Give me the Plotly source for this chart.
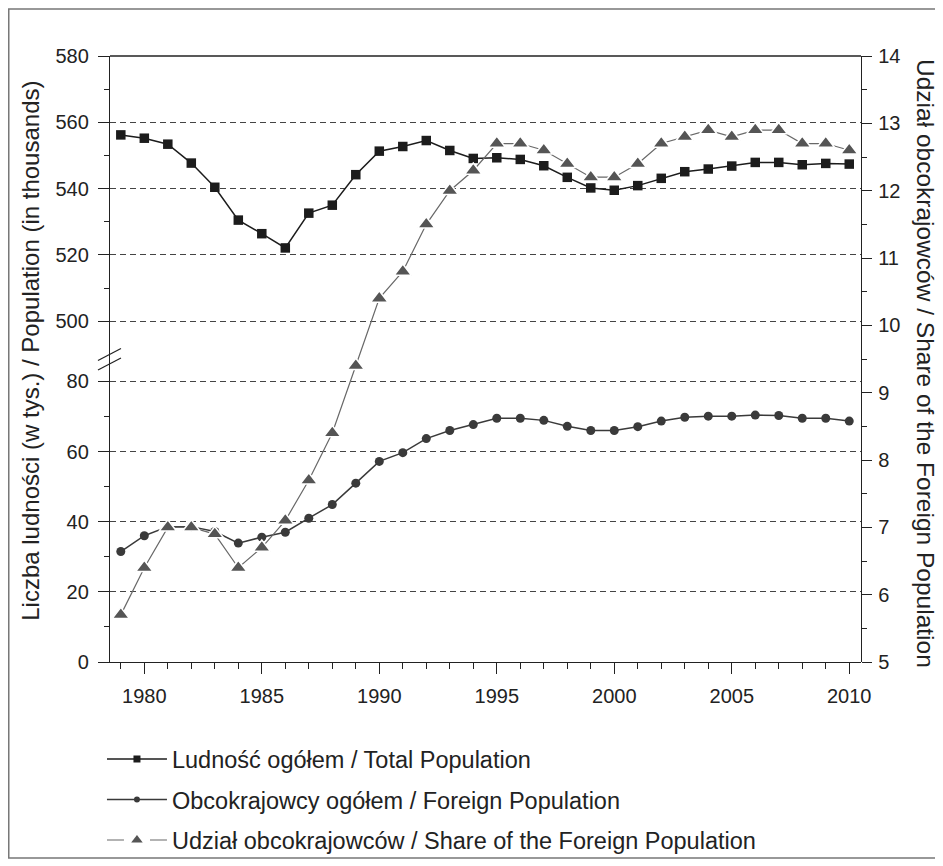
import plotly.graph_objects as go

years = list(range(1979, 2011))
total_pop = [556.2, 555.2, 553.4, 547.7, 540.4, 530.5, 526.4, 522.1, 532.6, 535.0, 544.2,
             551.3, 552.7, 554.5, 551.5, 549.1, 549.3, 548.8, 546.9, 543.4, 540.2, 539.5,
             540.9, 543.1, 545.1, 545.9, 546.8, 547.9, 547.9, 547.2, 547.6, 547.4]
foreign_pop = [31.5, 36.0, 38.6, 38.6, 37.2, 33.9, 35.6, 37.0, 41.0, 44.9, 51.0,
               57.2, 59.7, 63.7, 66.0, 67.7, 69.5, 69.5, 68.9, 67.2, 66.0, 66.0,
               67.1, 68.7, 69.8, 70.1, 70.1, 70.4, 70.3, 69.5, 69.5, 68.7]
share = [5.7, 6.4, 7.0, 7.0, 6.9, 6.4, 6.7, 7.1, 7.7, 8.4, 9.4,
         10.4, 10.8, 11.5, 12.0, 12.3, 12.7, 12.7, 12.6, 12.4, 12.2, 12.2,
         12.4, 12.7, 12.8, 12.9, 12.8, 12.9, 12.9, 12.7, 12.7, 12.6]

x_ticks = [1980, 1985, 1990, 1995, 2000, 2005, 2010]
low_ticks = [0, 20, 40, 60, 80]
high_ticks = [500, 520, 540, 560, 580]
share_ticks = list(range(5, 15))

name_total = "Ludność ogółem / Total Population"
name_foreign = "Obcokrajowcy ogółem / Foreign Population"
name_share = "Udział obcokrajowców / Share of the Foreign Population"
title_left = "Liczba ludności (w tys.) / Population (in thousands)"
title_right = "Udział obcokrajowców / Share of the Foreign Population"

FONT = "Liberation Sans, Arial, sans-serif"
AX = "#222222"
C_TOTAL = "#1c1c1c"
C_FOREIGN = "#3a3a3a"
C_SHARE = "#555555"
TICK_SIZE = 20

fig = go.Figure()

fig.add_trace(go.Scatter(x=years, y=total_pop, yaxis="y2", mode="lines+markers",
                         line=dict(color=C_TOTAL, width=1.5),
                         marker=dict(symbol="square", size=9.5, color=C_TOTAL),
                         showlegend=False, hoverinfo="skip"))
fig.add_trace(go.Scatter(x=years, y=foreign_pop, yaxis="y", mode="lines+markers",
                         line=dict(color=C_FOREIGN, width=1.5),
                         marker=dict(symbol="circle", size=9, color=C_FOREIGN),
                         showlegend=False, hoverinfo="skip"))
fig.add_trace(go.Scatter(x=years, y=share, yaxis="y3", mode="lines+markers",
                         line=dict(color="#686868", width=1.2),
                         marker=dict(symbol="triangle-up", size=15, color=C_SHARE,
                                     line=dict(color="white", width=1.5)),
                         showlegend=False, hoverinfo="skip"))

# legend-only entries
fig.add_trace(go.Scatter(x=[None], y=[None], yaxis="y2", mode="lines+markers", name=name_total,
                         legendgroup="a", line=dict(color=C_TOTAL, width=1.5),
                         marker=dict(symbol="square", size=7, color=C_TOTAL)))
fig.add_trace(go.Scatter(x=[None], y=[None], yaxis="y", mode="lines+markers", name=name_foreign,
                         legendgroup="b", line=dict(color=C_FOREIGN, width=1.5),
                         marker=dict(symbol="circle", size=6, color=C_FOREIGN)))
fig.add_trace(go.Scatter(x=[None], y=[None], yaxis="y3", mode="lines+markers", name=name_share,
                         legendgroup="c", line=dict(color="#686868", width=1.2, dash="17px,26px"),
                         marker=dict(symbol="triangle-up", size=10, color=C_SHARE)))

common_y = dict(showline=True, linecolor=AX, linewidth=1.3, ticks="outside", ticklen=11,
                tickcolor=AX, tickwidth=1.2, zeroline=False, ticklabelstandoff=5,
                tickfont=dict(family=FONT, size=TICK_SIZE, color="#222"),
                showgrid=True, gridcolor="#444", gridwidth=1, griddash="6px,4px")

# page has an 8px body margin: figure is sized so the plot lands at page px 110..861, 56..662
fig.update_layout(
    width=935, height=858,
    margin=dict(l=102, r=82, t=48, b=204, autoexpand=False),
    paper_bgcolor="white", plot_bgcolor="rgba(0,0,0,0)",
    font=dict(family=FONT, size=18, color="#222"),
    xaxis=dict(domain=[0, 1], range=[1978.54, 2010.5], anchor="y",
               showline=True, linecolor=AX, linewidth=1.3, ticks="outside", ticklen=11,
               tickcolor=AX, tickwidth=1.2, tickvals=x_ticks, showgrid=False, zeroline=False,
               ticklabelstandoff=5,
               tickfont=dict(family=FONT, size=TICK_SIZE, color="#222"),
               minor=dict(ticks="outside", ticklen=6, tickcolor=AX, dtick=1, tick0=1979,
                          showgrid=False)),
    yaxis=dict(domain=[0, 0.5], range=[0, 86.4], anchor="x", side="left",
               tickvals=low_ticks,
               minor=dict(ticks="outside", ticklen=5, tickcolor=AX, tickvals=[10, 30, 50, 70],
                          showgrid=False),
               **common_y),
    yaxis2=dict(domain=[0.5, 1], range=[488.6, 580], anchor="x", side="left",
                tickvals=high_ticks,
                minor=dict(ticks="outside", ticklen=5, tickcolor=AX,
                           tickvals=[510, 530, 550, 570], showgrid=False),
                **common_y),
    yaxis3=dict(domain=[0, 1], range=[5, 14], anchor="x", side="right",
                showline=True, linecolor=AX, linewidth=1.3, ticks="outside", ticklen=10,
                tickcolor=AX, tickwidth=1.2, tickvals=share_ticks, showgrid=False,
                zeroline=False, ticklabelstandoff=2,
                tickfont=dict(family=FONT, size=TICK_SIZE, color="#222"),
                minor=dict(ticks="outside", ticklen=5, tickcolor=AX, dtick=0.5, tick0=5,
                           showgrid=False)),
    legend=dict(x=-0.0107, y=-0.124, xanchor="left", yanchor="top", orientation="v",
                font=dict(family=FONT, size=23.5, color="#222"), itemwidth=60,
                tracegroupgap=7, bgcolor="rgba(0,0,0,0)"),
    showlegend=True,
)

shapes = [
    # top frame
    dict(type="line", xref="paper", yref="paper", x0=0, x1=1, y0=1, y1=1,
         line=dict(color=AX, width=1.3)),
    # axis break marks
    dict(type="line", xref="paper", yref="paper", x0=-0.016, y0=0.4975, x1=0.0146, y1=0.5173,
         line=dict(color=AX, width=1.2)),
    dict(type="line", xref="paper", yref="paper", x0=-0.016, y0=0.4818, x1=0.0146, y1=0.5017,
         line=dict(color=AX, width=1.2)),
    # outer border
    dict(type="rect", xref="paper", yref="paper", x0=-0.1348, y0=-0.3234, x1=1.1012, y1=1.0776,
         line=dict(color="#777", width=1.5)),
]
fig.update_layout(shapes=shapes)

fig.add_annotation(text=title_left, xref="paper", yref="paper", x=-0.107, y=0.513,
                   textangle=-90, showarrow=False, xanchor="center", yanchor="middle",
                   font=dict(family=FONT, size=24, color="#222"))
fig.add_annotation(text=title_right, xref="paper", yref="paper", x=1.085, y=0.492,
                   textangle=90, showarrow=False, xanchor="center", yanchor="middle",
                   font=dict(family=FONT, size=24.5, color="#222"))

fig.write_html("out.html")
